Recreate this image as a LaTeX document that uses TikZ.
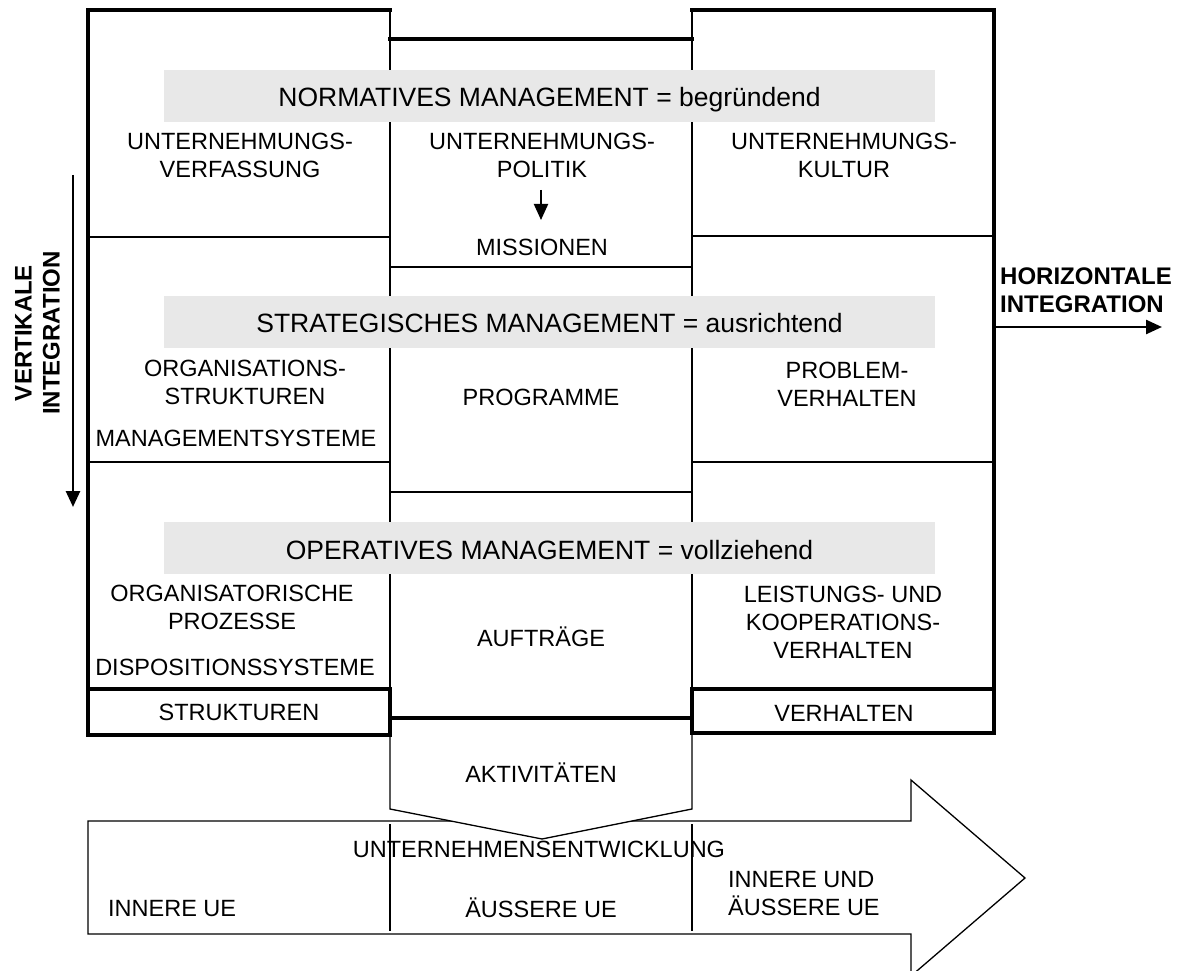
\documentclass[tikz,border=0pt]{standalone}
\usepackage{fontspec}
\setmainfont{Liberation Sans}
\usetikzlibrary{arrows.meta}
\definecolor{bandgray}{RGB}{232,232,232}
\newcommand{\cellfont}{\fontsize{23.5}{28}\selectfont}
\newcommand{\bandfont}{\fontsize{26.5}{30}\selectfont}
\newcommand{\sidefont}{\fontsize{24}{28}\selectfont\bfseries}
\tikzstyle{frame} = [line width=4.5pt, line cap=rect]
\tikzstyle{divider} = [line width=2.7pt]
\tikzstyle{thinline} = [line width=1.3pt]
\tikzstyle{band} = [fill=bandgray, inner sep=0pt, minimum width=771pt,
    minimum height=52pt, text height=22pt, text depth=0pt, font=\bandfont]
\tikzstyle{cell} = [align=center, inner sep=0pt, font=\cellfont]
\tikzstyle{side} = [align=center, inner sep=0pt, font=\sidefont]

\begin{document}
\begin{tikzpicture}[x=1pt, y=-1pt, >={Triangle[length=16pt,width=14pt]}]
          \useasboundingbox (0,0) rectangle (1179,971);

          % Development arrow and activities
          \draw [thinline] (88,821) -- (911,821) -- (911,780) -- (1025,878)
              -- (911,976) -- (911,934) -- (88,934) -- cycle;
          \draw [thinline] (390,824) -- (390,931) (692,824) -- (692,931);
          \draw [thinline, fill=white] (390,718) -- (390,809) -- (542,839)
              -- (692,809) -- (692,718);

          % Grid
          \draw [divider] (88,237) -- (390,237) (88,462) -- (390,462)
              (390,267) -- (692,267) (390,492) -- (692,492)
              (692,236) -- (994,236) (692,462) -- (994,462);
          \draw [divider] (390,10) -- (390,689) (692,10) -- (692,689);
          \draw [frame] (390,10) -- (88,10) -- (88,735) -- (390,735)
              -- (390,689) -- (88,689);
          \draw [frame] (390,39) -- (692,39) (390,718) -- (692,718);
          \draw [frame] (692,10) -- (994,10) -- (994,733) -- (692,733)
              -- (692,689) -- (994,689);

          % Levels
          \node [band] (normband) at (549.5,96) {NORMATIVES MANAGEMENT = begründend};
          \node [band] (stratband) at (549.5,321.5) {STRATEGISCHES MANAGEMENT = ausrichtend};
          \node [band] (opband) at (549.5,548) {OPERATIVES MANAGEMENT = vollziehend};

          % Cells
          \node [cell] (verfassung) at (240,155) {UNTERNEHMUNGS-\\VERFASSUNG};
          \node [cell] (politik) at (542,155) {UNTERNEHMUNGS-\\POLITIK};
          \node [cell] (kultur) at (844,155) {UNTERNEHMUNGS-\\KULTUR};
          \node [cell] (missionen) at (542,247) {MISSIONEN};
          \node [cell] (orgstrukturen) at (245,382) {ORGANISATIONS-\\STRUKTUREN};
          \node [cell] (mgmtsysteme) at (236,438) {MANAGEMENTSYSTEME};
          \node [cell] (programme) at (541,397) {PROGRAMME};
          \node [cell] (problemverhalten) at (847,384) {PROBLEM-\\VERHALTEN};
          \node [cell] (orgprozesse) at (232,607) {ORGANISATORISCHE\\PROZESSE};
          \node [cell] (dispsysteme) at (235,667) {DISPOSITIONSSYSTEME};
          \node [cell] (auftraege) at (541,637) {AUFTRÄGE};
          \node [cell] (leistverhalten) at (843,622) {LEISTUNGS- UND\\KOOPERATIONS-\\VERHALTEN};
          \node [cell] (strukturen) at (239,712) {STRUKTUREN};
          \node [cell] (verhalten) at (844,713) {VERHALTEN};
          \node [cell] (aktivitaeten) at (541,773) {AKTIVITÄTEN};
          \node [cell] (entwicklung) at (539,849) {UNTERNEHMENSENTWICKLUNG};
          \node [cell, anchor=west] (innereue) at (108,909) {INNERE UE};
          \node [cell] (aeussereue) at (541,908) {ÄUSSERE UE};
          \node [cell, anchor=west, align=left] (beideue) at (728,894) {INNERE UND\\ÄUSSERE UE};

          % Integration
          \node [side, rotate=90] (vertlabel) at (37.5,333) {VERTIKALE\\INTEGRATION};
          \node [side, anchor=west, align=left] (horlabel) at (1000,290) {HORIZONTALE\\INTEGRATION};
          \coordinate (vtop) at (73,175);
          \coordinate (vbot) at (73,507);
          \coordinate (hstart) at (996,327);
          \coordinate (htip) at (1162,327);
          \coordinate (polarrow) at (541,190);
          \coordinate (missarrow) at (541,220);

          % Connections
          \draw [->, line width=2.7pt] (vtop) -- (vbot);
          \draw [->, line width=2.5pt] (hstart) -- (htip);
          \draw [->, line width=2pt] (polarrow) -- (missarrow);
      \end{tikzpicture}
\end{document}
